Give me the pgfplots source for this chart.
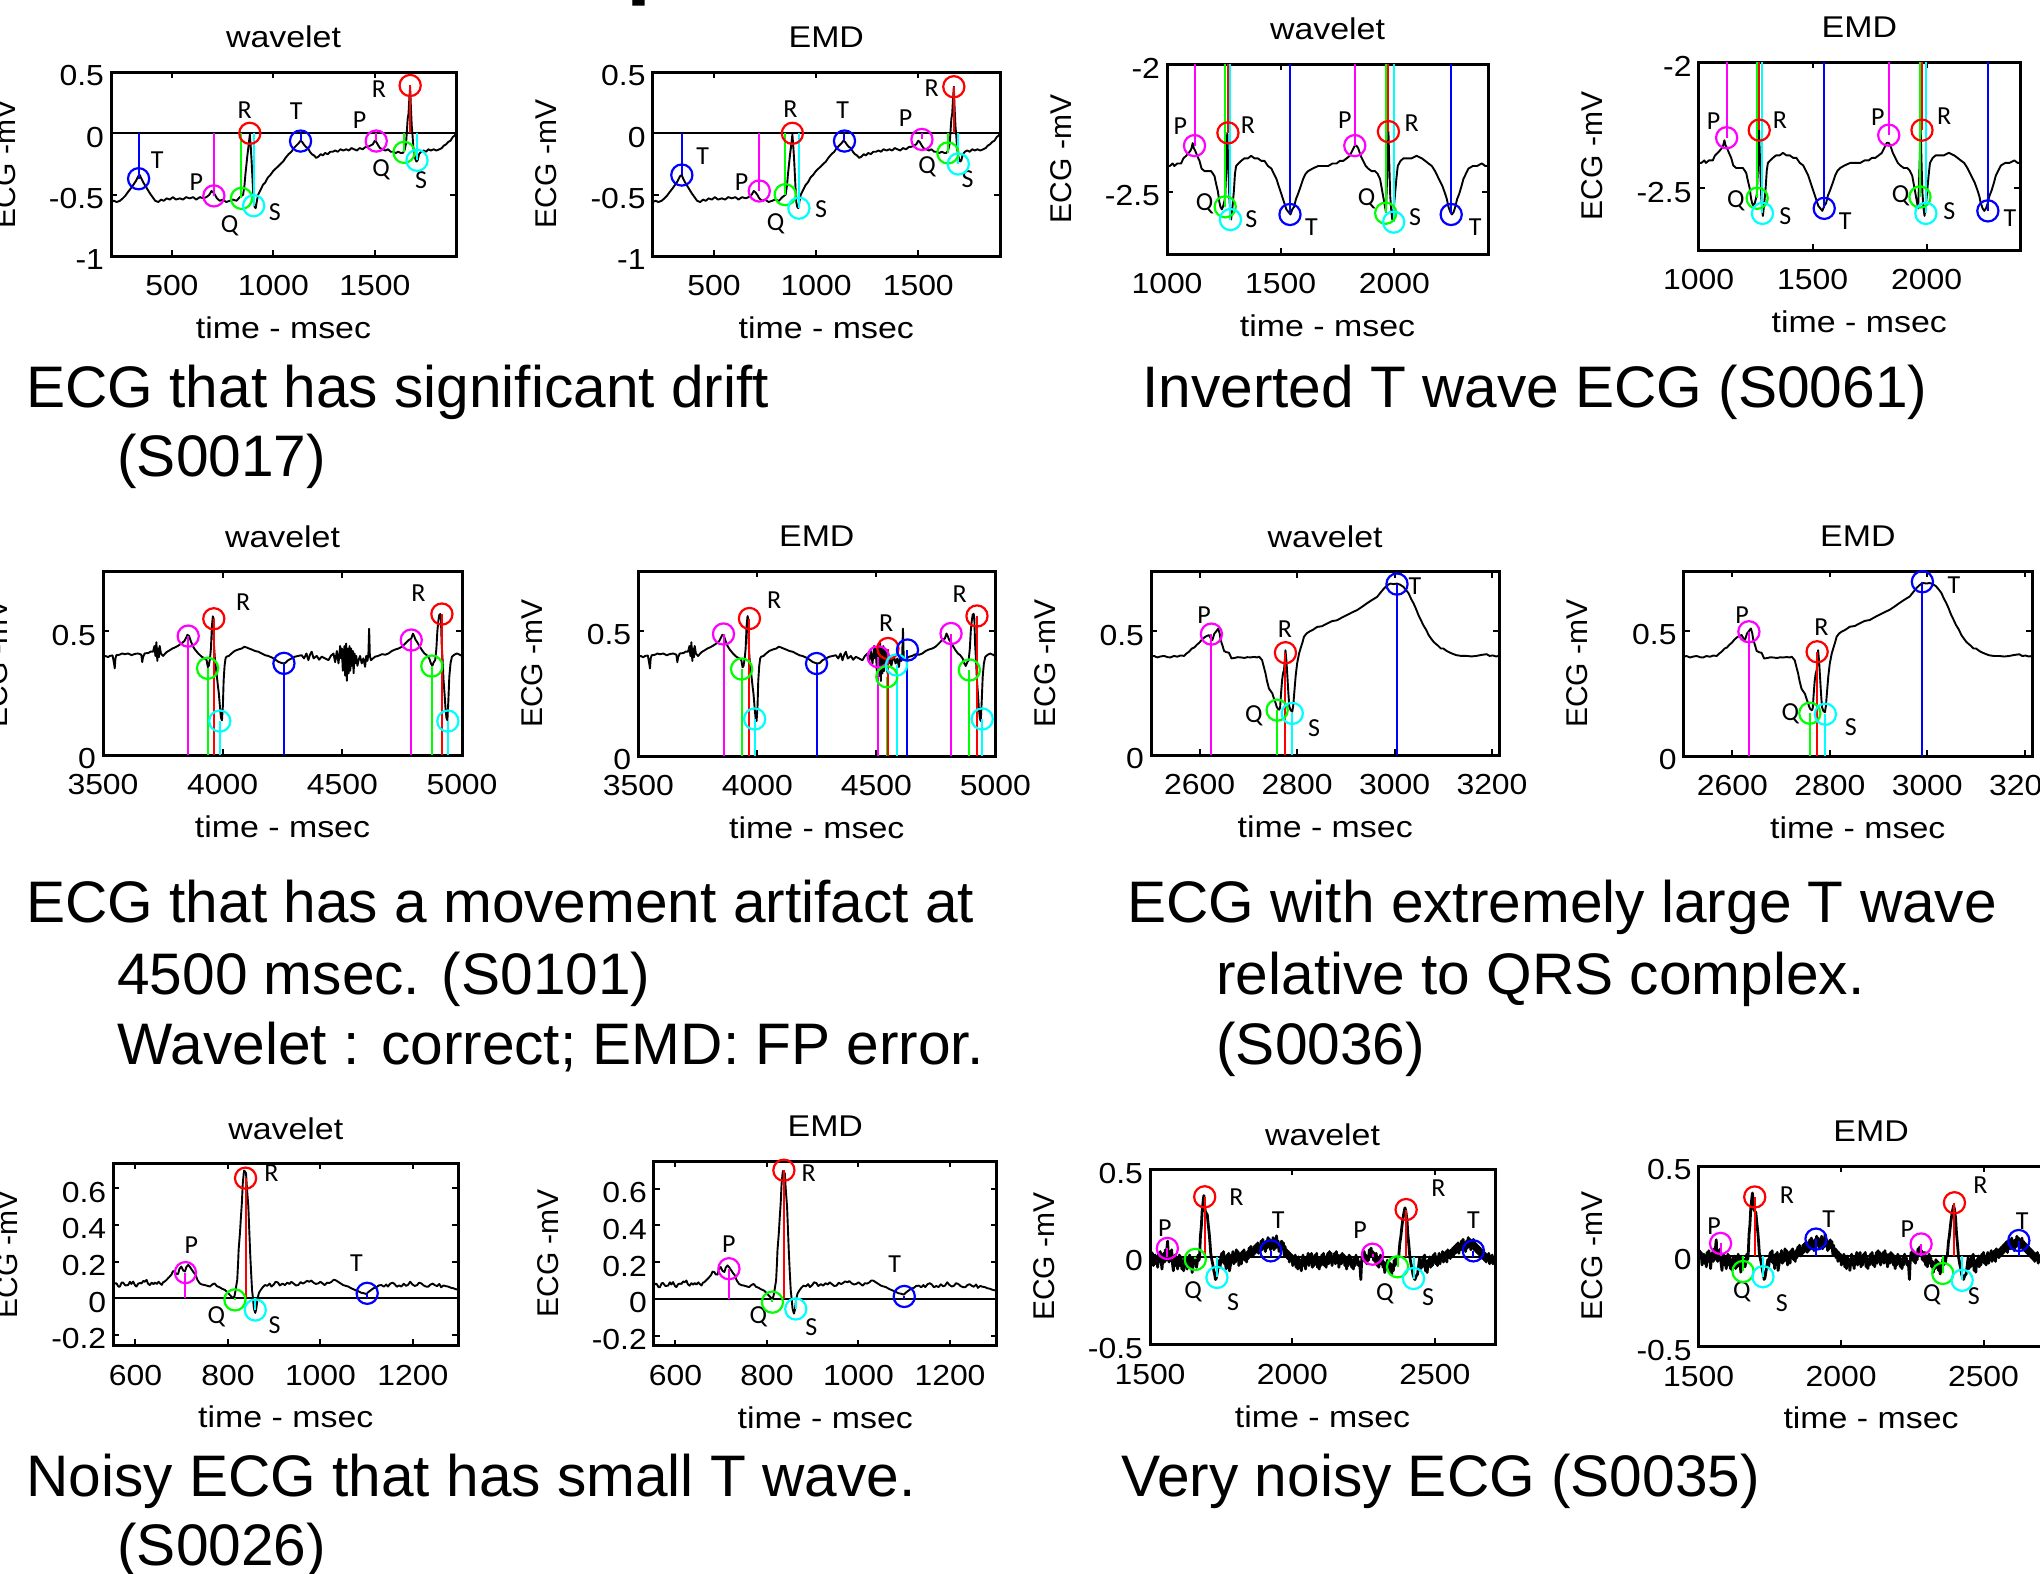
\documentclass[border=0pt]{standalone}
\usepackage{fontspec}
\usepackage{pgfplots}
\usepackage{pgfplotstable}
\pgfplotsset{compat=1.18}
\setmainfont{Liberation Sans}
\newfontfamily\axfam[FakeStretch=1.1]{Liberation Sans}
\newfontfamily\lbfam[FakeStretch=1.13]{Liberation Sans}
\newfontfamily\mkfam{Carlito}
\newcommand{\tkfont}{\axfam\fontsize{14.5}{16}\selectfont}
\newcommand{\lbfont}{\lbfam\fontsize{15}{17}\selectfont}
\newcommand{\ylfont}{\fontsize{15}{17}\selectfont}
\newcommand{\mkfont}{\mkfam\fontsize{13}{15}\selectfont}
\newcommand{\capfont}{\fontsize{29.3}{35}\selectfont}

\definecolor{wP}{rgb}{1,0,1}
\definecolor{wQ}{rgb}{0,1,0}
\definecolor{wR}{rgb}{1,0,0}
\definecolor{wS}{rgb}{0,1,1}
\definecolor{wT}{rgb}{0,0,1}

% stem from the zero baseline to a detected wave point, with a ring on it
\newcommand{\ecgmark}[3]{%
  \addplot[#1, line width=1pt] coordinates {(#2,0) (#2,#3)};
  \addplot[#1, only marks, mark=o, mark size=5.3pt, mark options={line width=1.1pt}] coordinates {(#2,#3)};
}
\newcommand{\wavelbl}[3]{\node[font=\mkfont, inner sep=0pt] at (axis cs:#1,#2) {#3};}

\pgfplotsset{
  ecg/.style={
    scale only axis, anchor=south west, clip=true,
    axis line style={line width=1.5pt},
    tick style={line width=1pt, black},
    major tick length=3pt,
    tick align=inside,
    tick label style={font=\tkfont},
    x tick label style={anchor=center, yshift=-15pt},
    y tick label style={anchor=east, yshift=-2pt},
    title style={at={(axis description cs:0.5,1)}, anchor=center, yshift=11.5pt, font=\lbfont},
    xlabel style={at={(axis description cs:0.5,0)}, anchor=center, yshift=-36pt, font=\lbfont},
    ylabel style={at={([xshift=-53pt]axis description cs:0,0.5)}, anchor=center, font=\ylfont},
    xlabel={time - msec}, ylabel={ECG -mV},
  },
  trace/.style={black, line width=0.95pt, line join=round},
}

% ---------------- S0017: drifting record ----------------
\pgfplotstableread{
t v
200 -0.56
215 -0.55
228 -0.56
244 -0.55
258 -0.53
270 -0.51
283 -0.48
297 -0.45
310 -0.42
322 -0.39
334 -0.35
342 -0.34
350 -0.37
359 -0.40
370 -0.43
381 -0.46
392 -0.49
405 -0.52
418 -0.55
433 -0.56
447 -0.54
460 -0.55
474 -0.53
490 -0.54
505 -0.52
520 -0.54
539 -0.53
555 -0.54
570 -0.52
588 -0.53
605 -0.52
620 -0.54
638 -0.52
655 -0.53
670 -0.52
685 -0.50
695 -0.47
703 -0.48
712 -0.50
722 -0.53
736 -0.55
750 -0.54
768 -0.56
785 -0.55
800 -0.54
818 -0.55
835 -0.52
851 -0.50
858 -0.42
862 -0.34
867 -0.26
872 -0.18
878 -0.10
884 -0.01
889 -0.12
893 -0.23
898 -0.40
903 -0.56
908 -0.60
913 -0.61
919 -0.55
925 -0.50
937 -0.46
949 -0.42
960 -0.40
973 -0.36
985 -0.34
998 -0.31
1010 -0.29
1023 -0.27
1035 -0.25
1048 -0.23
1060 -0.20
1075 -0.17
1089 -0.15
1101 -0.12
1113 -0.10
1125 -0.08
1134 -0.06
1142 -0.07
1150 -0.09
1160 -0.11
1170 -0.12
1180 -0.15
1190 -0.17
1200 -0.18
1211 -0.20
1222 -0.19
1233 -0.17
1244 -0.18
1255 -0.16
1268 -0.17
1280 -0.15
1293 -0.15
1305 -0.14
1318 -0.15
1330 -0.13
1345 -0.14
1359 -0.13
1372 -0.14
1385 -0.12
1398 -0.13
1412 -0.14
1425 -0.12
1440 -0.13
1455 -0.11
1466 -0.11
1478 -0.10
1490 -0.09
1500 -0.06
1507 -0.07
1514 -0.09
1525 -0.12
1539 -0.13
1552 -0.14
1565 -0.13
1578 -0.15
1590 -0.15
1603 -0.16
1615 -0.15
1628 -0.16
1638 -0.16
1646 -0.14
1654 -0.08
1658 0.02
1662 0.12
1666 0.16
1670 0.28
1674 0.38
1678 0.20
1682 0.06
1686 -0.02
1690 -0.12
1695 -0.18
1700 -0.21
1705 -0.23
1711 -0.22
1718 -0.17
1728 -0.15
1740 -0.14
1752 -0.15
1764 -0.13
1776 -0.14
1790 -0.13
1803 -0.14
1818 -0.13
1830 -0.12
1840 -0.10
1851 -0.09
1862 -0.07
1873 -0.06
1884 -0.03
1892 -0.02
1900 0.00
}\ecgdrift

% ---------------- S0061: inverted T wave ----------------
\pgfplotstableread{
t v
1000 -2.40
1012 -2.40
1025 -2.39
1032 -2.40
1045 -2.39
1062 -2.39
1072 -2.37
1084 -2.36
1094 -2.35
1103 -2.34
1108 -2.33
1113 -2.31
1118 -2.33
1124 -2.34
1133 -2.36
1143 -2.38
1152 -2.41
1165 -2.42
1180 -2.42
1194 -2.42
1202 -2.43
1209 -2.44
1216 -2.47
1224 -2.50
1230 -2.54
1235 -2.56
1241 -2.57
1246 -2.56
1252 -2.54
1256 -2.52
1261 -2.40
1265 -2.27
1269 -2.38
1274 -2.52
1278 -2.58
1282 -2.61
1288 -2.56
1294 -2.50
1299 -2.43
1304 -2.40
1314 -2.39
1326 -2.38
1340 -2.37
1356 -2.37
1370 -2.36
1385 -2.37
1400 -2.37
1415 -2.38
1429 -2.38
1444 -2.40
1459 -2.41
1470 -2.43
1481 -2.45
1492 -2.48
1503 -2.51
1514 -2.54
1525 -2.57
1534 -2.58
1543 -2.59
1551 -2.57
1559 -2.56
1567 -2.53
1576 -2.51
1588 -2.48
1599 -2.45
1610 -2.43
1621 -2.42
1640 -2.41
1665 -2.40
1687 -2.40
1709 -2.40
1728 -2.39
1746 -2.39
1760 -2.38
1775 -2.38
1790 -2.37
1804 -2.36
1815 -2.34
1826 -2.32
1833 -2.32
1841 -2.33
1852 -2.36
1863 -2.38
1874 -2.40
1885 -2.41
1900 -2.42
1915 -2.42
1926 -2.43
1937 -2.45
1945 -2.49
1951 -2.52
1957 -2.55
1963 -2.58
1968 -2.45
1974 -2.265
1978 -2.40
1982 -2.52
1987 -2.58
1991 -2.61
1997 -2.57
2003 -2.51
2009 -2.45
2015 -2.40
2027 -2.38
2040 -2.37
2058 -2.37
2076 -2.37
2098 -2.36
2121 -2.37
2136 -2.38
2150 -2.39
2165 -2.40
2179 -2.42
2190 -2.44
2201 -2.46
2212 -2.48
2224 -2.51
2231 -2.53
2238 -2.56
2246 -2.58
2253 -2.59
2261 -2.58
2268 -2.56
2276 -2.53
2285 -2.51
2295 -2.48
2304 -2.45
2315 -2.43
2326 -2.41
2345 -2.40
2363 -2.40
2385 -2.39
2400 -2.40
2412 -2.40
}\ecginvt

% ---------------- S0101: movement artifact ----------------
\pgfplotstableread{
t v
3500 0.397
3510 0.40
3521 0.395
3528 0.40
3540 0.402
3546 0.37
3549 0.35
3552 0.39
3556 0.403
3570 0.405
3580 0.41
3591 0.407
3605 0.41
3619 0.403
3633 0.408
3647 0.41
3660 0.405
3664 0.375
3667 0.394
3674 0.41
3690 0.412
3700 0.418
3709 0.417
3715 0.44
3719 0.40
3723 0.455
3727 0.38
3730 0.43
3734 0.395
3737 0.44
3742 0.41
3751 0.40
3765 0.415
3779 0.423
3790 0.43
3800 0.434
3812 0.44
3828 0.45
3840 0.46
3848 0.475
3853 0.485
3860 0.48
3866 0.462
3875 0.44
3884 0.426
3898 0.41
3912 0.397
3925 0.39
3933 0.383
3938 0.355
3942 0.36
3947 0.39
3951 0.43
3955 0.52
3959 0.56
3962 0.55
3964 0.44
3968 0.383
3972 0.35
3976 0.316
3980 0.28
3984 0.249
3989 0.19
3993 0.15
3997 0.14
4001 0.20
4004 0.30
4008 0.36
4012 0.39
4016 0.397
4026 0.40
4037 0.41
4050 0.42
4065 0.426
4080 0.43
4090 0.437
4100 0.434
4110 0.43
4121 0.426
4135 0.42
4149 0.417
4163 0.41
4177 0.403
4190 0.40
4205 0.394
4220 0.385
4233 0.376
4245 0.372
4253 0.37
4262 0.372
4274 0.383
4288 0.39
4302 0.397
4316 0.40
4330 0.403
4340 0.39
4350 0.41
4358 0.383
4365 0.405
4372 0.417
4380 0.39
4393 0.40
4403 0.385
4414 0.397
4428 0.39
4442 0.383
4452 0.40
4463 0.41
4470 0.375
4477 0.42
4484 0.37
4491 0.44
4495 0.39
4498 0.43
4502 0.34
4505 0.40
4509 0.44
4512 0.32
4516 0.45
4519 0.30
4523 0.43
4526 0.33
4530 0.44
4533 0.34
4537 0.43
4540 0.36
4544 0.42
4547 0.33
4551 0.41
4554 0.37
4558 0.40
4563 0.36
4568 0.383
4574 0.40
4581 0.37
4588 0.39
4595 0.356
4600 0.40
4605 0.38
4609 0.41
4612 0.51
4615 0.40
4620 0.383
4628 0.39
4637 0.397
4650 0.40
4665 0.407
4680 0.405
4693 0.41
4707 0.42
4721 0.426
4735 0.43
4749 0.437
4763 0.45
4777 0.464
4788 0.47
4795 0.49
4800 0.48
4806 0.465
4812 0.457
4822 0.44
4833 0.423
4843 0.41
4853 0.403
4863 0.39
4870 0.37
4876 0.36
4882 0.375
4888 0.383
4893 0.43
4897 0.50
4901 0.54
4905 0.565
4909 0.569
4912 0.55
4915 0.45
4919 0.383
4923 0.30
4927 0.249
4931 0.19
4935 0.15
4939 0.14
4943 0.22
4947 0.316
4952 0.37
4958 0.397
4968 0.405
4979 0.41
4990 0.405
5000 0.40
}\ecgmove

% ---------------- S0036: very large T wave ----------------
\pgfplotstableread{
t v
2500 0.397
2506 0.40
2513 0.394
2520 0.398
2527 0.40
2534 0.395
2540 0.394
2547 0.40
2554 0.397
2561 0.402
2568 0.40
2573 0.41
2578 0.417
2584 0.43
2589 0.434
2594 0.445
2599 0.453
2604 0.465
2609 0.474
2614 0.48
2619 0.484
2623 0.47
2626 0.464
2630 0.49
2633 0.497
2636 0.505
2638 0.51
2641 0.49
2643 0.464
2647 0.44
2650 0.42
2655 0.415
2660 0.413
2663 0.40
2665 0.39
2672 0.392
2678 0.395
2684 0.394
2692 0.392
2698 0.395
2704 0.394
2712 0.396
2718 0.394
2722 0.397
2725 0.39
2728 0.383
2731 0.36
2735 0.33
2738 0.30
2742 0.269
2745 0.26
2749 0.249
2752 0.23
2756 0.208
2758 0.195
2760 0.188
2763 0.183
2765 0.19
2767 0.25
2769 0.30
2771 0.33
2773 0.343
2775 0.39
2776 0.423
2778 0.38
2780 0.316
2782 0.25
2784 0.195
2787 0.18
2790 0.175
2792 0.20
2794 0.249
2797 0.32
2800 0.37
2804 0.41
2807 0.43
2811 0.455
2814 0.477
2819 0.49
2824 0.497
2832 0.505
2841 0.517
2851 0.52
2861 0.53
2871 0.54
2882 0.544
2892 0.555
2902 0.565
2912 0.575
2923 0.585
2933 0.598
2943 0.612
2953 0.625
2964 0.638
2971 0.655
2978 0.672
2985 0.685
2991 0.692
2998 0.69
3005 0.692
3011 0.688
3018 0.679
3024 0.665
3029 0.652
3034 0.63
3039 0.612
3044 0.59
3049 0.565
3054 0.545
3059 0.524
3065 0.505
3070 0.484
3075 0.47
3080 0.457
3085 0.448
3090 0.44
3095 0.43
3100 0.43
3107 0.42
3114 0.413
3120 0.408
3127 0.403
3137 0.40
3148 0.40
3158 0.398
3168 0.40
3178 0.404
3189 0.407
3195 0.40
3202 0.402
3208 0.398
3215 0.40
}\ecgbigt

% ---------------- S0026: noisy, small T wave ----------------
\pgfplotstableread{
t v
552 0.072
556 0.082
559 0.081
563 0.064
566 0.063
570 0.085
573 0.086
578 0.07
584 0.072
588 0.09
591 0.078
595 0.091
599 0.07
602 0.064
606 0.08
610 0.083
613 0.081
617 0.095
620 0.09
624 0.1
627 0.08
631 0.072
635 0.085
639 0.077
642 0.086
646 0.078
650 0.09
653 0.081
657 0.073
660 0.088
663 0.091
667 0.1
670 0.108
674 0.118
678 0.13
681 0.148
685 0.146
688 0.133
692 0.132
695 0.16
699 0.173
703 0.152
707 0.146
710 0.17
714 0.182
718 0.17
722 0.155
726 0.14
730 0.127
734 0.1
739 0.081
744 0.075
750 0.072
755 0.068
761 0.064
766 0.075
771 0.081
776 0.066
782 0.06
787 0.052
793 0.046
798 0.035
804 0.018
808 0.008
811 0.0
814 0.012
816 0.037
818 0.07
820 0.1
822 0.2
823 0.264
826 0.36
828 0.445
830 0.52
832 0.627
834 0.68
835 0.696
837 0.69
839 0.682
841 0.6
844 0.5
846 0.37
848 0.245
850 0.14
852 0.046
854 0.0
856 -0.055
859 -0.08
861 -0.06
864 0.0
867 0.03
871 0.046
875 0.06
880 0.072
885 0.068
890 0.08
894 0.064
899 0.075
903 0.09
908 0.086
912 0.07
918 0.08
923 0.072
928 0.085
933 0.078
937 0.09
942 0.08
947 0.07
952 0.072
957 0.088
962 0.08
966 0.086
971 0.095
976 0.09
980 0.097
985 0.085
990 0.078
995 0.081
1000 0.09
1005 0.08
1009 0.072
1014 0.085
1019 0.083
1024 0.09
1028 0.1
1031 0.1
1035 0.095
1038 0.09
1043 0.082
1049 0.072
1054 0.068
1060 0.064
1066 0.055
1074 0.046
1080 0.04
1088 0.03
1093 0.028
1099 0.023
1104 0.035
1110 0.046
1115 0.055
1121 0.06
1126 0.07
1132 0.072
1137 0.063
1142 0.075
1146 0.064
1151 0.08
1156 0.085
1160 0.078
1165 0.063
1170 0.07
1175 0.064
1180 0.079
1185 0.068
1189 0.072
1194 0.09
1199 0.075
1204 0.067
1209 0.072
1213 0.085
1218 0.081
1223 0.07
1228 0.064
1233 0.063
1238 0.075
1243 0.08
1247 0.072
1252 0.066
1257 0.078
1261 0.06
1266 0.07
1271 0.066
1276 0.064
1281 0.058
1287 0.055
1292 0.05
1298 0.046
}\ecgsmallt

% ---------------- S0035: very noisy ----------------
\pgfplotstableread{
t v
1500 -0.02
1503 0.03
1506 -0.01
1509 0.02
1512 -0.05
1515 -0.02
1518 0.01
1521 -0.04
1524 0.0
1527 -0.06
1530 0.02
1533 -0.03
1536 0.03
1539 -0.02
1542 -0.07
1545 -0.01
1548 0.02
1551 -0.03
1554 0.04
1557 -0.02
1560 0.06
1562 0.09
1564 0.0
1567 -0.03
1570 0.03
1573 -0.02
1576 0.04
1579 -0.04
1582 -0.08
1585 -0.02
1588 0.01
1591 -0.05
1594 -0.01
1597 -0.07
1600 -0.02
1603 0.01
1606 -0.05
1609 0.0
1612 -0.07
1615 -0.03
1618 -0.08
1621 -0.01
1624 -0.05
1627 0.0
1630 -0.07
1633 -0.03
1636 -0.06
1639 0.01
1642 -0.03
1645 -0.01
1648 -0.09
1651 -0.05
1654 -0.01
1657 -0.04
1660 -0.02
1663 -0.06
1666 -0.03
1669 0.01
1672 -0.02
1674 0.0
1677 0.12
1680 0.17
1683 0.26
1686 0.31
1689 0.35
1691 0.30
1694 0.26
1697 0.25
1701 0.24
1704 0.19
1708 0.13
1711 0.07
1713 0.02
1716 -0.01
1720 -0.04
1724 -0.08
1727 -0.10
1730 -0.13
1733 -0.12
1736 -0.09
1740 -0.05
1743 -0.02
1746 -0.06
1749 0.0
1752 0.02
1755 -0.03
1758 0.03
1761 -0.04
1764 -0.01
1767 -0.07
1770 0.01
1773 -0.02
1776 0.02
1779 -0.08
1782 -0.05
1785 0.01
1788 -0.03
1791 0.03
1794 -0.04
1797 0.0
1800 -0.03
1803 0.04
1806 0.0
1809 0.03
1812 -0.05
1815 -0.01
1818 0.02
1821 -0.04
1824 0.03
1827 0.0
1830 0.04
1833 -0.02
1836 0.02
1839 -0.03
1842 0.03
1845 -0.01
1848 0.05
1851 0.02
1854 0.06
1857 0.0
1860 0.04
1863 0.01
1866 0.06
1869 0.02
1872 0.07
1875 0.03
1878 0.08
1881 0.02
1884 0.06
1887 0.03
1890 0.09
1893 0.04
1896 0.1
1899 0.05
1902 0.08
1905 0.03
1908 0.09
1911 0.05
1914 0.11
1917 0.06
1920 0.1
1923 0.04
1926 0.09
1929 0.05
1932 0.11
1935 0.04
1938 0.08
1941 0.05
1944 0.12
1947 0.06
1950 0.09
1953 0.03
1956 0.07
1959 0.04
1962 0.09
1965 0.05
1968 0.08
1971 0.01
1974 0.06
1977 0.0
1980 0.04
1983 -0.01
1986 0.03
1989 -0.03
1992 0.02
1995 -0.02
1998 0.01
2001 -0.05
2004 0.0
2007 -0.04
2010 0.01
2013 -0.06
2016 -0.02
2019 -0.07
2022 0.0
2025 -0.05
2028 -0.02
2031 -0.08
2034 -0.03
2037 0.01
2040 -0.05
2043 -0.02
2046 -0.07
2049 0.0
2052 -0.04
2055 0.02
2058 -0.05
2061 0.01
2064 -0.03
2067 0.02
2070 -0.06
2073 -0.02
2076 -0.05
2079 0.01
2082 -0.03
2085 0.02
2088 -0.06
2091 -0.01
2094 -0.07
2097 -0.02
2100 -0.05
2103 0.01
2106 -0.04
2109 0.02
2112 -0.05
2115 0.0
2118 -0.06
2121 -0.02
2124 0.02
2127 -0.04
2130 0.03
2133 -0.03
2136 0.02
2139 -0.05
2142 0.0
2145 -0.03
2148 0.02
2151 -0.04
2154 0.03
2157 -0.02
2160 0.01
2163 -0.06
2166 -0.02
2169 0.01
2172 -0.04
2175 0.02
2178 -0.03
2181 0.01
2184 -0.05
2187 0.0
2190 -0.07
2193 -0.02
2196 -0.05
2199 0.01
2202 -0.03
2205 0.0
2208 -0.06
2211 -0.02
2214 -0.07
2217 -0.01
2220 -0.05
2223 0.01
2226 -0.03
2229 -0.01
2232 -0.05
2236 -0.03
2240 -0.13
2243 -0.02
2246 0.02
2249 -0.02
2252 0.03
2255 -0.03
2258 0.01
2261 -0.04
2264 0.0
2267 -0.02
2270 0.04
2273 0.0
2276 0.05
2279 0.01
2282 0.03
2285 -0.02
2288 0.02
2291 -0.03
2294 0.02
2297 -0.05
2300 -0.01
2303 -0.06
2306 -0.02
2309 0.01
2312 -0.04
2315 -0.01
2318 -0.06
2321 -0.03
2324 -0.09
2327 -0.04
2330 -0.07
2333 -0.02
2336 -0.06
2339 -0.03
2342 -0.08
2345 -0.04
2348 -0.1
2351 -0.05
2354 -0.08
2357 -0.02
2360 -0.05
2363 -0.01
2366 -0.04
2369 0.0
2373 0.0
2377 0.08
2380 0.11
2384 0.17
2387 0.21
2391 0.25
2395 0.28
2398 0.26
2402 0.21
2405 0.13
2409 0.06
2412 0.0
2416 -0.04
2420 -0.07
2423 -0.10
2427 -0.12
2430 -0.13
2434 -0.11
2439 -0.10
2443 -0.05
2446 -0.01
2449 -0.07
2452 -0.03
2455 -0.06
2458 0.0
2461 -0.03
2464 0.01
2467 -0.08
2470 -0.04
2473 -0.09
2476 -0.02
2479 -0.05
2482 0.0
2485 -0.06
2488 -0.02
2491 -0.05
2494 0.01
2497 -0.03
2500 0.02
2503 -0.04
2506 0.0
2509 -0.05
2512 -0.01
2515 0.02
2518 -0.04
2521 0.01
2524 -0.02
2527 0.03
2530 -0.03
2533 0.02
2536 -0.02
2539 0.03
2542 -0.03
2545 0.04
2548 0.0
2551 0.03
2554 -0.01
2557 0.04
2560 0.0
2563 0.05
2566 0.01
2569 0.06
2572 0.02
2575 0.07
2578 0.03
2581 0.08
2584 0.02
2587 0.07
2590 0.04
2593 0.09
2596 0.04
2599 0.1
2602 0.05
2605 0.08
2608 0.03
2611 0.09
2614 0.05
2617 0.11
2620 0.06
2623 0.1
2626 0.04
2629 0.09
2632 0.05
2635 0.1
2638 0.04
2641 0.08
2644 0.03
2647 0.07
2650 0.02
2653 0.06
2656 0.01
2659 0.05
2662 0.0
2665 0.04
2668 -0.01
2671 0.03
2674 -0.02
2677 0.02
2680 -0.03
2683 0.01
2686 -0.02
2689 0.02
2692 -0.04
2695 0.0
2698 -0.03
2701 0.01
2704 -0.04
2707 -0.01
2711 -0.02
}\ecgnoisy

\begin{document}
\begin{tikzpicture}
\useasboundingbox (0,0) rectangle (1020pt,-787pt);
\clip (0,0) rectangle (1020pt,-787pt);

% remnant of the slide heading above the panels
\node[anchor=base west, inner sep=0pt, font=\bfseries\fontsize{45}{50}\selectfont] at (313pt,6pt) {p};

% ===== row 1 : S0017 =====
\begin{axis}[ecg, at={(55.5pt,-128pt)}, width=172.5pt, height=92pt,
  xmin=200, xmax=1900, ymin=-1, ymax=0.5,
  xtick={500,1000,1500}, xticklabels={500,1000,1500},
  ytick={-1,-0.5,0,0.5}, yticklabels={-1,-0.5,0,0.5}, title={wavelet}]
\addplot[trace] table[x=t,y=v] {\ecgdrift};
\addplot[black, line width=1pt] coordinates {(200,0) (1900,0)};
\ecgmark{wT}{336}{-0.37}
\ecgmark{wP}{707}{-0.51}
\ecgmark{wQ}{843}{-0.53}
\ecgmark{wR}{884}{0.0}
\ecgmark{wS}{903}{-0.59}
\ecgmark{wT}{1134}{-0.063}
\ecgmark{wP}{1507}{-0.063}
\ecgmark{wQ}{1644}{-0.155}
\ecgmark{wR}{1674}{0.39}
\ecgmark{wS}{1708}{-0.22}
\wavelbl{428}{-0.22}{T}
\wavelbl{621}{-0.40}{P}
\wavelbl{785}{-0.75}{Q}
\wavelbl{859}{0.19}{R}
\wavelbl{1007}{-0.64}{S}
\wavelbl{1113}{0.18}{T}
\wavelbl{1425}{0.11}{P}
\wavelbl{1531}{-0.30}{Q}
\wavelbl{1520}{0.36}{R}
\wavelbl{1728}{-0.38}{S}
\end{axis}

\begin{axis}[ecg, at={(326.3pt,-128pt)}, width=173.7pt, height=92pt,
  xmin=200, xmax=1900, ymin=-1, ymax=0.5,
  xtick={500,1000,1500}, xticklabels={500,1000,1500},
  ytick={-1,-0.5,0,0.5}, yticklabels={-1,-0.5,0,0.5}, title={EMD}]
\addplot[trace] table[x=t,y=v] {\ecgdrift};
\addplot[black, line width=1pt] coordinates {(200,0) (1900,0)};
\ecgmark{wT}{343}{-0.34}
\ecgmark{wP}{722}{-0.47}
\ecgmark{wQ}{849}{-0.50}
\ecgmark{wR}{884}{0.0}
\ecgmark{wS}{916}{-0.61}
\ecgmark{wT}{1139}{-0.063}
\ecgmark{wP}{1518}{-0.05}
\ecgmark{wQ}{1645}{-0.16}
\ecgmark{wR}{1674}{0.38}
\ecgmark{wS}{1696}{-0.25}
\wavelbl{445}{-0.19}{T}
\wavelbl{636}{-0.40}{P}
\wavelbl{802}{-0.74}{Q}
\wavelbl{875}{0.20}{R}
\wavelbl{1025}{-0.62}{S}
\wavelbl{1130}{0.19}{T}
\wavelbl{1438}{0.12}{P}
\wavelbl{1543}{-0.27}{Q}
\wavelbl{1566}{0.37}{R}
\wavelbl{1741}{-0.37}{S}
\end{axis}

% ===== row 1 : S0061 =====
\begin{axis}[ecg, at={(583.5pt,-127pt)}, width=160.5pt, height=95pt,
  xmin=1000, xmax=2412, ymin=-2.745, ymax=-2,
  xtick={1000,1500,2000}, xticklabels={1000,1500,2000},
  ytick={-2.5,-2}, yticklabels={-2.5,-2}, title={wavelet}]
\addplot[trace] table[x=t,y=v] {\ecginvt};
\ecgmark{wP}{1121}{-2.32}
\ecgmark{wQ}{1256}{-2.56}
\ecgmark{wR}{1268}{-2.27}
\ecgmark{wS}{1279}{-2.61}
\ecgmark{wT}{1541}{-2.59}
\ecgmark{wP}{1826}{-2.32}
\ecgmark{wQ}{1962}{-2.585}
\ecgmark{wR}{1974}{-2.265}
\ecgmark{wS}{1997}{-2.62}
\ecgmark{wT}{2250}{-2.59}
\wavelbl{1059}{-2.245}{P}
\wavelbl{1356}{-2.24}{R}
\wavelbl{1165}{-2.55}{Q}
\wavelbl{1371}{-2.61}{S}
\wavelbl{1635}{-2.64}{T}
\wavelbl{1782}{-2.22}{P}
\wavelbl{2076}{-2.23}{R}
\wavelbl{1878}{-2.53}{Q}
\wavelbl{2091}{-2.60}{S}
\wavelbl{2356}{-2.64}{T}
\end{axis}

\begin{axis}[ecg, at={(849.3pt,-125pt)}, width=160.7pt, height=94pt,
  xmin=1000, xmax=2410, ymin=-2.745, ymax=-2,
  xtick={1000,1500,2000}, xticklabels={1000,1500,2000},
  ytick={-2.5,-2}, yticklabels={-2.5,-2}, title={EMD}]
\addplot[trace] table[x=t,y=v] {\ecginvt};
\ecgmark{wP}{1123}{-2.30}
\ecgmark{wQ}{1257}{-2.54}
\ecgmark{wR}{1266}{-2.27}
\ecgmark{wS}{1280}{-2.60}
\ecgmark{wT}{1551}{-2.58}
\ecgmark{wP}{1834}{-2.29}
\ecgmark{wQ}{1971}{-2.535}
\ecgmark{wR}{1980}{-2.27}
\ecgmark{wS}{1997}{-2.60}
\ecgmark{wT}{2269}{-2.59}
\wavelbl{1066}{-2.235}{P}
\wavelbl{1357}{-2.23}{R}
\wavelbl{1163}{-2.55}{Q}
\wavelbl{1380}{-2.61}{S}
\wavelbl{1643}{-2.63}{T}
\wavelbl{1786}{-2.22}{P}
\wavelbl{2077}{-2.215}{R}
\wavelbl{1886}{-2.53}{Q}
\wavelbl{2100}{-2.59}{S}
\wavelbl{2366}{-2.62}{T}
\end{axis}

% ===== row 2 : S0101 =====
\begin{axis}[ecg, at={(51.5pt,-377.5pt)}, width=179.5pt, height=91.65pt,
  xmin=3500, xmax=5000, ymin=0, ymax=0.74,
  xtick={3500,4000,4500,5000}, xticklabels={3500,4000,4500,5000},
  ytick={0,0.5}, yticklabels={0,0.5}, title={wavelet}]
\addplot[trace] table[x=t,y=v] {\ecgmove};
\ecgmark{wP}{3856}{0.48}
\ecgmark{wQ}{3937}{0.35}
\ecgmark{wR}{3963}{0.55}
\ecgmark{wS}{3988}{0.137}
\ecgmark{wT}{4256}{0.37}
\ecgmark{wP}{4788}{0.464}
\ecgmark{wQ}{4874}{0.359}
\ecgmark{wR}{4916}{0.569}
\ecgmark{wS}{4941}{0.137}
\wavelbl{4086}{0.618}{R}
\wavelbl{4818}{0.652}{R}
\end{axis}

\begin{axis}[ecg, at={(319.15pt,-378pt)}, width=178.5pt, height=92.5pt,
  xmin=3500, xmax=5000, ymin=0, ymax=0.74,
  xtick={3500,4000,4500,5000}, xticklabels={3500,4000,4500,5000},
  ytick={0,0.5}, yticklabels={0,0.5}, title={EMD}]
\addplot[trace] table[x=t,y=v] {\ecgmove};
\ecgmark{wP}{3858}{0.488}
\ecgmark{wQ}{3934}{0.348}
\ecgmark{wR}{3967}{0.55}
\ecgmark{wS}{3989}{0.148}
\ecgmark{wT}{4249}{0.37}
\ecgmark{wP}{4508}{0.397}
\ecgmark{wQ}{4544}{0.317}
\ecgmark{wR}{4549}{0.43}
\ecgmark{wS}{4585}{0.364}
\ecgmark{wT}{4631}{0.424}
\ecgmark{wP}{4814}{0.49}
\ecgmark{wQ}{4891}{0.344}
\ecgmark{wR}{4923}{0.56}
\ecgmark{wS}{4945}{0.148}
\wavelbl{4071}{0.624}{R}
\wavelbl{4541}{0.531}{R}
\wavelbl{4850}{0.648}{R}
\end{axis}

% ===== row 2 : S0036 =====
\begin{axis}[ecg, at={(575.5pt,-377.5pt)}, width=174.15pt, height=91.65pt,
  xmin=2500, xmax=3215, ymin=0, ymax=0.74,
  xtick={2600,2800,3000,3200}, xticklabels={2600,2800,3000,3200},
  ytick={0,0.5}, yticklabels={0,0.5}, title={wavelet}]
\addplot[trace] table[x=t,y=v] {\ecgbigt};
\ecgmark{wP}{2624}{0.488}
\ecgmark{wQ}{2759}{0.181}
\ecgmark{wR}{2776}{0.413}
\ecgmark{wS}{2790}{0.168}
\ecgmark{wT}{3005}{0.69}
\wavelbl{2609}{0.565}{P}
\wavelbl{2775}{0.51}{R}
\wavelbl{2711}{0.16}{Q}
\wavelbl{2835}{0.108}{S}
\wavelbl{3042}{0.68}{T}
\end{axis}

\begin{axis}[ecg, at={(841.8pt,-378pt)}, width=174.2pt, height=92.5pt,
  xmin=2500, xmax=3215, ymin=0, ymax=0.74,
  xtick={2600,2800,3000,3200}, xticklabels={2600,2800,3000,3200},
  ytick={0,0.5}, yticklabels={0,0.5}, title={EMD}]
\addplot[trace] table[x=t,y=v] {\ecgbigt};
\ecgmark{wP}{2634}{0.497}
\ecgmark{wQ}{2759}{0.171}
\ecgmark{wR}{2774}{0.417}
\ecgmark{wS}{2791}{0.167}
\ecgmark{wT}{2990}{0.697}
\wavelbl{2620}{0.564}{P}
\wavelbl{2783}{0.517}{R}
\wavelbl{2719}{0.17}{Q}
\wavelbl{2843}{0.117}{S}
\wavelbl{3055}{0.684}{T}
\end{axis}

% ===== row 3 : S0026 =====
\begin{axis}[ecg, at={(56.65pt,-672.5pt)}, width=172.5pt, height=90.85pt,
  xmin=552, xmax=1298, ymin=-0.255, ymax=0.736,
  xtick={600,800,1000,1200}, xticklabels={600,800,1000,1200},
  ytick={-0.2,0,0.2,0.4,0.6}, yticklabels={-0.2,0,0.2,0.4,0.6}, title={wavelet}]
\addplot[trace] table[x=t,y=v] {\ecgsmallt};
\addplot[black, line width=1pt] coordinates {(552,0) (1298,0)};
\ecgmark{wP}{708}{0.14}
\ecgmark{wQ}{815}{-0.009}
\ecgmark{wR}{838}{0.655}
\ecgmark{wS}{859}{-0.064}
\ecgmark{wT}{1101}{0.027}
\wavelbl{721}{0.29}{P}
\wavelbl{894}{0.68}{R}
\wavelbl{775}{-0.10}{Q}
\wavelbl{901}{-0.145}{S}
\wavelbl{1078}{0.19}{T}
\end{axis}

\begin{axis}[ecg, at={(326.95pt,-672.85pt)}, width=171.4pt, height=92.35pt,
  xmin=553, xmax=1302, ymin=-0.255, ymax=0.75,
  xtick={600,800,1000,1200}, xticklabels={600,800,1000,1200},
  ytick={-0.2,0,0.2,0.4,0.6}, yticklabels={-0.2,0,0.2,0.4,0.6}, title={EMD}]
\addplot[trace] table[x=t,y=v] {\ecgsmallt};
\addplot[black, line width=1pt] coordinates {(553,0) (1302,0)};
\ecgmark{wP}{717}{0.164}
\ecgmark{wQ}{812}{-0.018}
\ecgmark{wR}{837}{0.70}
\ecgmark{wS}{863}{-0.055}
\ecgmark{wT}{1100}{0.013}
\wavelbl{717}{0.30}{P}
\wavelbl{891}{0.685}{R}
\wavelbl{781}{-0.10}{Q}
\wavelbl{897}{-0.155}{S}
\wavelbl{1079}{0.19}{T}
\end{axis}

% ===== row 3 : S0035 =====
\begin{axis}[ecg, at={(575pt,-672.15pt)}, width=172.5pt, height=87.5pt,
  xmin=1500, xmax=2711, ymin=-0.5, ymax=0.5,
  xtick={1500,2000,2500}, xticklabels={1500,2000,2500},
  ytick={-0.5,0,0.5}, yticklabels={-0.5,0,0.5}, title={wavelet}]
\addplot[trace, line width=1.4pt] table[x=t,y=v] {\ecgnoisy};
\addplot[black, line width=1pt] coordinates {(1500,0) (2711,0)};
\ecgmark{wP}{1561}{0.048}
\ecgmark{wQ}{1659}{-0.015}
\ecgmark{wR}{1692}{0.343}
\ecgmark{wS}{1735}{-0.118}
\ecgmark{wT}{1924}{0.034}
\ecgmark{wP}{2281}{0.015}
\ecgmark{wQ}{2369}{-0.057}
\ecgmark{wR}{2399}{0.27}
\ecgmark{wS}{2425}{-0.124}
\ecgmark{wT}{2635}{0.034}
\wavelbl{1552}{0.162}{P}
\wavelbl{1803}{0.343}{R}
\wavelbl{1651}{-0.20}{Q}
\wavelbl{1792}{-0.257}{S}
\wavelbl{1950}{0.21}{T}
\wavelbl{2237}{0.152}{P}
\wavelbl{2512}{0.39}{R}
\wavelbl{2324}{-0.21}{Q}
\wavelbl{2476}{-0.23}{S}
\wavelbl{2635}{0.21}{T}
\end{axis}

\begin{axis}[ecg, at={(849.3pt,-673pt)}, width=172.5pt, height=90pt,
  xmin=1500, xmax=2711, ymin=-0.5, ymax=0.5,
  xtick={1500,2000,2500}, xticklabels={1500,2000,2500},
  ytick={-0.5,0,0.5}, yticklabels={-0.5,0,0.5}, title={EMD}]
\addplot[trace, line width=1.4pt] table[x=t,y=v] {\ecgnoisy};
\addplot[black, line width=1pt] coordinates {(1500,0) (2711,0)};
\ecgmark{wP}{1577}{0.07}
\ecgmark{wQ}{1656}{-0.086}
\ecgmark{wR}{1697}{0.328}
\ecgmark{wS}{1726}{-0.115}
\ecgmark{wT}{1912}{0.094}
\ecgmark{wP}{2281}{0.067}
\ecgmark{wQ}{2357}{-0.097}
\ecgmark{wR}{2398}{0.296}
\ecgmark{wS}{2425}{-0.135}
\ecgmark{wT}{2624}{0.086}
\wavelbl{1554}{0.166}{P}
\wavelbl{1810}{0.34}{R}
\wavelbl{1652}{-0.197}{Q}
\wavelbl{1792}{-0.263}{S}
\wavelbl{1957}{0.204}{T}
\wavelbl{2233}{0.147}{P}
\wavelbl{2489}{0.395}{R}
\wavelbl{2319}{-0.216}{Q}
\wavelbl{2466}{-0.225}{S}
\wavelbl{2636}{0.195}{T}
\end{axis}

% ===== captions =====
\begin{scope}[every node/.style={anchor=base west, inner sep=0pt, font=\capfont}]
\node at (13pt,-203.5pt) {ECG that has significant drift};
\node at (58.5pt,-238pt) {(S0017)};
\node at (571pt,-203.5pt) {Inverted T wave ECG (S0061)};
\node at (13pt,-461pt) {ECG that has a movement artifact at};
\node at (58.5pt,-497pt) {4500 msec. (S0101)};
\node at (58.5pt,-532pt) {Wavelet : correct; EMD: FP error.};
\node at (563.5pt,-461pt) {ECG with extremely large T wave};
\node at (608pt,-497pt) {relative to QRS complex.};
\node at (608pt,-532pt) {(S0036)};
\node at (13pt,-748pt) {Noisy ECG that has small T wave.};
\node at (58.5pt,-782.5pt) {(S0026)};
\node at (560.5pt,-748pt) {Very noisy ECG (S0035)};
\end{scope}
\end{tikzpicture}
\end{document}
